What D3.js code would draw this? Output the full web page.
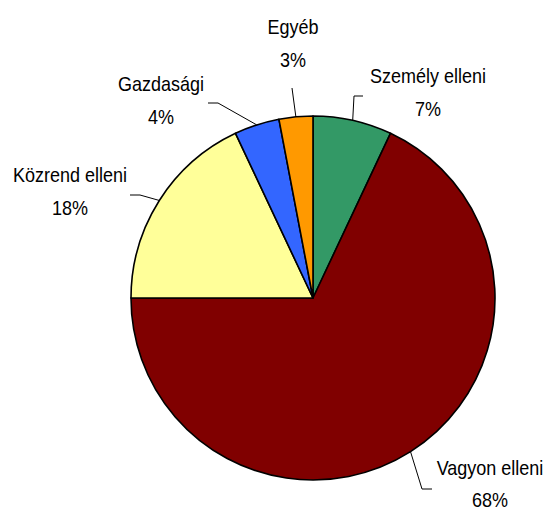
<!DOCTYPE html>
<html><head><meta charset="utf-8">
<script src="https://cdn.jsdelivr.net/npm/d3@7"></script>
<style>
html,body{margin:0;padding:0;background:#fff;}
text{font-family:"Liberation Sans",Arial,sans-serif;font-size:20px;fill:#000;}
</style></head>
<body><svg id="c" width="547" height="511"></svg>
<script>
const categories = ["Személy elleni","Vagyon elleni","Közrend elleni","Gazdasági","Egyéb"];
const values = [7,68,18,4,3];
const colors = ["#339966","#800000","#FFFF99","#3366FF","#FF9900"];
// label layout: text centre x, name baseline y, gap to percent line, elbow point, line end
const labelLayout = [
  {tx:428, ty:83,  gap:33, elbow:[354,96], end:[363,96]},
  {tx:490, ty:475, gap:32, elbow:[422,489], end:[432,489]},
  {tx:70,  ty:182, gap:33, elbow:[140,195], end:[130,195]},
  {tx:161, ty:91,  gap:33, elbow:[218,103], end:[208,103]},
  {tx:293, ty:34,  gap:33, elbow:[292,88], end:null}
];
const cx=313, cy=298, R=182;
const svg=d3.select("#c");
const g=svg.append("g").attr("transform",`translate(${cx},${cy})`);
const data=categories.map((c,i)=>({name:c,value:values[i],color:colors[i],lay:labelLayout[i]}));
const pie=d3.pie().sort(null).value(d=>d.value);
const arc=d3.arc().innerRadius(0).outerRadius(R);
const arcs=pie(data);
g.selectAll("path.s").data(arcs).join("path").attr("class","s")
  .attr("d",arc).attr("fill",d=>d.data.color).attr("stroke","#000").attr("stroke-width",1.6).attr("stroke-linejoin","round");
const total=d3.sum(values);
function label(x,y,t){
  svg.append("text").attr("transform",`translate(${x},${y}) scale(0.9,1)`).attr("text-anchor","middle").text(t);
}
arcs.forEach(a=>{
  const m=(a.startAngle+a.endAngle)/2;
  const p=[cx+R*Math.sin(m), cy-R*Math.cos(m)];
  const L=a.data.lay;
  const pts=[p,L.elbow]; if(L.end) pts.push(L.end);
  svg.append("path").attr("d",d3.line()(pts)).attr("fill","none").attr("stroke","#000").attr("stroke-width",1);
  label(L.tx,L.ty,a.data.name);
  label(L.tx,L.ty+L.gap,Math.round(a.data.value/total*100)+"%");
});
</script></body></html>
